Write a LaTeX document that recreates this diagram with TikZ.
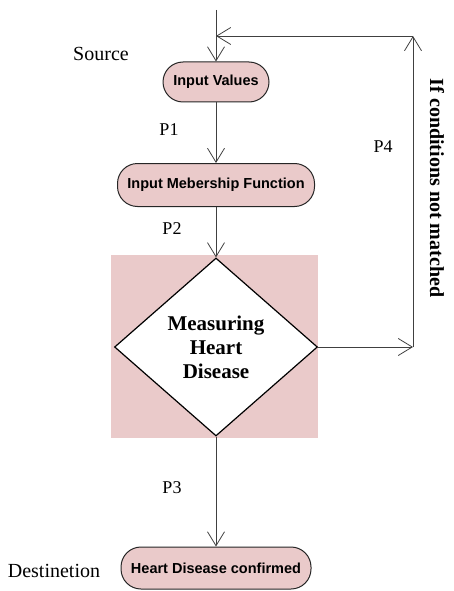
\documentclass[tikz,border=0pt]{standalone}
\usepackage{fontspec}
\setmainfont{Liberation Serif}
\newfontfamily\pillfont{Liberation Sans}
\usetikzlibrary{arrows.meta,shapes.geometric}
\definecolor{pinkfill}{RGB}{234,202,202}
\tikzset{
  pill/.style={draw=black!85, line width=1pt, fill=pinkfill, rounded corners=20pt,
    inner sep=0pt, font=\pillfont\fontsize{14.5}{16}\selectfont\bfseries},
  flow/.style={draw=black!75, line width=0.8pt, -{Straight Barb[length=14pt,width=17pt,line width=0.8pt]}},
  lbl/.style={font=\fontsize{18}{20}\selectfont}
}
\begin{document}
\begin{tikzpicture}[x=1pt,y=-1pt]
\useasboundingbox (0,0) rectangle (453,591);
% shaded panel behind the decision
\node[fill=pinkfill, minimum width=207pt, minimum height=183pt, inner sep=0pt] (panel) at (214.5,346.5){};
\node[draw=black, line width=1.2pt, fill=white, shape=diamond, inner sep=0pt, minimum width=203pt, minimum height=178pt,
  font=\fontsize{21}{24}\selectfont\bfseries, align=center] (measure) at (216,347){Measuring\\Heart\\Disease};
% process boxes
\node[pill, minimum width=106pt, minimum height=40pt] (input) at (216,82){Input Values};
\node[pill, minimum width=197pt, minimum height=43pt] (member) at (216,185){Input Mebership Function};
\node[pill, minimum width=190pt, minimum height=42pt] (confirm) at (216,568){Heart Disease confirmed};
% labels
\node[lbl, font=\fontsize{20}{22}\selectfont] (src) at (101,54){Source};
\node[lbl, font=\fontsize{20}{22}\selectfont] (dst) at (54,571){Destinetion};
\node[lbl] (p1) at (169,130){P1};
\node[lbl] (p2) at (172,229){P2};
\node[lbl] (p3) at (172,488){P3};
\node[lbl] (p4) at (383,147){P4};
\node[rotate=-90, font=\fontsize{20}{22}\selectfont\bfseries] (cond) at (437,188){If conditions not matched};
% connectors
\coordinate (start) at (216,10);
\coordinate (turn) at (413,347);
\coordinate (top) at (413,36);
\coordinate (join) at (216,36);
\draw[flow] (start) -- (input.north);
\draw[flow] (input) -- (member);
\draw[flow] (member) -- (measure.north);
\draw[flow] (measure.south) -- (confirm.north);
\draw[flow] (measure.east) -- (turn);
\draw[flow] (turn) -- (top);
\draw[flow] (top) -- (join);
\end{tikzpicture}
\end{document}
